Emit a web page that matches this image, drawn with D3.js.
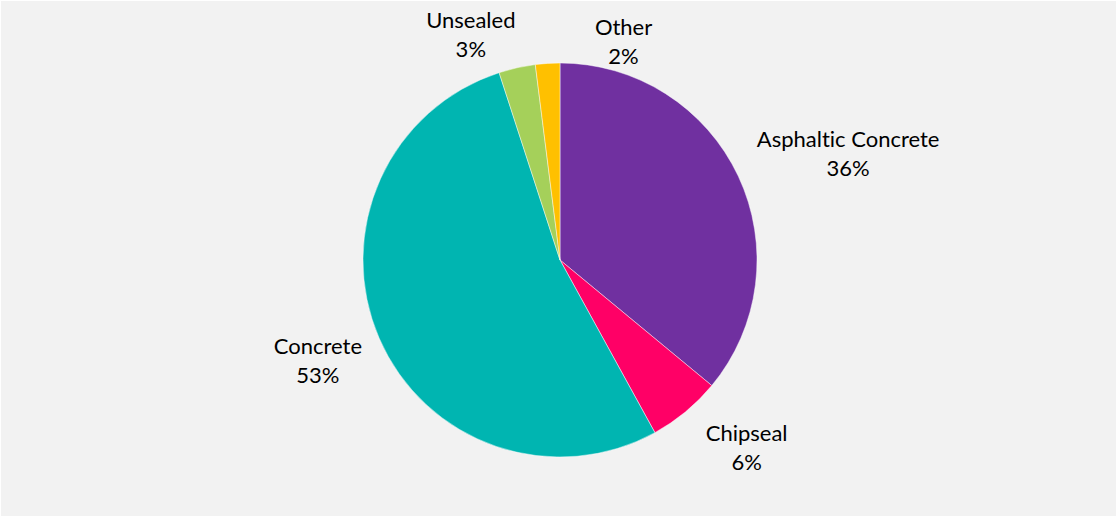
<!DOCTYPE html>
<html>
<head>
<meta charset="utf-8">
<script src="https://cdn.jsdelivr.net/npm/d3@7"></script>
<style>
  html, body { margin: 0; padding: 0; background: #ffffff; }
  svg { display: block; }
  text { font-variant-ligatures: none; }
</style>
</head>
<body>
<svg id="chart" width="1118" height="518"></svg>
<script>
// Road surface types, share of network length (%)
const categories = ["Asphaltic Concrete", "Chipseal", "Concrete", "Unsealed", "Other"];
const shares = [36, 6, 53, 3, 2];
const sliceColors = ["#7030a0", "#ff0066", "#00b5b1", "#a5d05a", "#ffc000"];

// Label placement: shift from each slice's outer centroid, in pixels
const labelNudge = [[80, -15], [40, 4], [-31, 3], [-39, -7.5], [78, 4.5]];

const width = 1118, height = 518;
const cx = 560, cy = 260, radius = 197, labelRadius = 230;

const svg = d3.select("#chart");

svg.append("rect")
  .attr("x", 1).attr("y", 1)
  .attr("width", width - 3).attr("height", height - 3)
  .attr("fill", "#f2f2f2");

const data = categories.map((c, i) => ({ name: c, value: shares[i], color: sliceColors[i], nudge: labelNudge[i] }));

const pie = d3.pie().value(d => d.value).sort(null);
const arcs = pie(data);

const arc = d3.arc().innerRadius(0).outerRadius(radius);
const labelArc = d3.arc().innerRadius(labelRadius).outerRadius(labelRadius);

const g = svg.append("g").attr("transform", `translate(${cx},${cy})`);

g.selectAll("path.slice")
  .data(arcs)
  .join("path")
  .attr("class", "slice")
  .attr("d", arc)
  .attr("fill", d => d.data.color)
  .attr("stroke", "#ffffff")
  .attr("stroke-width", 0.75)
  .attr("stroke-opacity", 0.6);

const labels = g.selectAll("text.label")
  .data(arcs)
  .join("text")
  .attr("class", "label")
  .attr("text-anchor", "middle")
  .attr("font-family", "Lato, 'Open Sans', sans-serif")
  .attr("font-size", 22)
  .attr("fill", "#000000")
  .attr("transform", d => {
    const [x, y] = labelArc.centroid(d);
    return `translate(${x + d.data.nudge[0]},${y + d.data.nudge[1]})`;
  });

labels.append("tspan")
  .attr("x", 0).attr("y", 0)
  .text(d => d.data.name);

labels.append("tspan")
  .attr("x", 0).attr("y", 29)
  .text(d => d3.format(".0f")(d.data.value) + "%");
</script>
</body>
</html>
